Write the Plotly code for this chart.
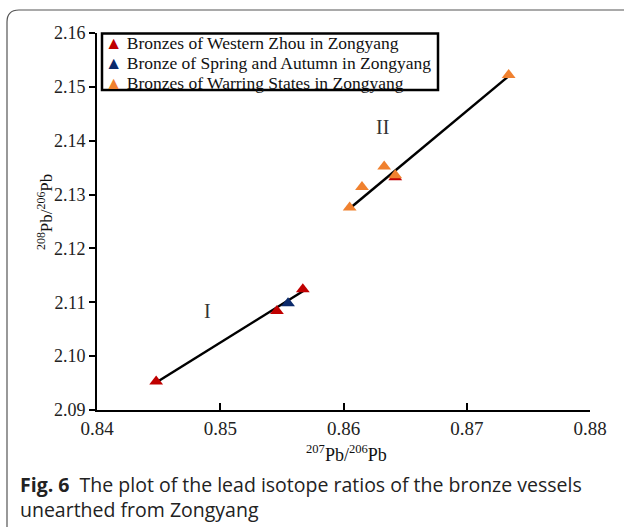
import plotly.graph_objects as go

# ---- data ----
western_zhou_x = [0.8448, 0.8546, 0.8567, 0.8642]
western_zhou_y = [2.0953, 2.1084, 2.1124, 2.1332]
spring_autumn_x = [0.8555]
spring_autumn_y = [2.1098]
warring_x = [0.8605, 0.8615, 0.8633, 0.8642, 0.8734]
warring_y = [2.1276, 2.1314, 2.1352, 2.1336, 2.1522]
trend_I_x = [0.8448, 0.8568]
trend_I_y = [2.0951, 2.1122]
trend_II_x = [0.8605, 0.8734]
trend_II_y = [2.1274, 2.1520]
x_ticks = [0.84, 0.85, 0.86, 0.87, 0.88]
y_ticks = [2.09, 2.10, 2.11, 2.12, 2.13, 2.14, 2.15, 2.16]
series_names = ["Bronzes of Western Zhou in Zongyang",
                "Bronze of Spring and Autumn in Zongyang",
                "Bronzes of Warring States in Zongyang"]
series_colors = ["#C00000", "#0B2A6B", "#F0812F"]

# ---- layout geometry (pixels) ----
WIDTH, HEIGHT = 624, 527
L, R, T, B = 97, 590, 33, 410
PW, PH = R - L, B - T


def px(x):
    return (x - L) / PW


def py(y):
    return (B - y) / PH


SERIF = "Liberation Serif, Times New Roman, serif"
SANS = "Open Sans, Noto Sans, sans-serif"

fig = go.Figure()

for tx, ty in [(trend_I_x, trend_I_y), (trend_II_x, trend_II_y)]:
    fig.add_trace(go.Scatter(x=tx, y=ty, mode="lines",
                             line=dict(color="black", width=2.5),
                             showlegend=False, hoverinfo="skip"))

marker_common = dict(symbol="triangle-up", size=12, line=dict(width=0))
fig.add_trace(go.Scatter(x=western_zhou_x, y=western_zhou_y, mode="markers",
                         name=series_names[0],
                         marker=dict(color=series_colors[0], **marker_common),
                         showlegend=False))
fig.add_trace(go.Scatter(x=spring_autumn_x, y=spring_autumn_y, mode="markers",
                         name=series_names[1],
                         marker=dict(color=series_colors[1], **marker_common),
                         showlegend=False))
fig.add_trace(go.Scatter(x=warring_x, y=warring_y, mode="markers",
                         name=series_names[2],
                         marker=dict(color=series_colors[2], **marker_common),
                         showlegend=False))

shapes = []
annotations = []

# custom legend box
shapes.append(dict(type="rect", xref="paper", yref="paper",
                   x0=px(102), x1=px(438), y0=py(33.5), y1=py(90),
                   line=dict(color="black", width=2.5), fillcolor="white",
                   layer="above"))
for i, (name, col) in enumerate(zip(series_names, series_colors)):
    annotations.append(dict(
        xref="paper", yref="paper", x=px(103), y=py(43 + 20 * i),
        xanchor="left", yanchor="middle", showarrow=False,
        text=f"<span style='color:{col}'>▲</span> {name}",
        font=dict(family=SERIF, size=17.5, color="#111")))

# group labels
annotations.append(dict(xref="x", yref="y", x=0.8490, y=2.1083, text="I",
                        showarrow=False, font=dict(family=SERIF, size=20, color="#333")))
annotations.append(dict(xref="x", yref="y", x=0.8632, y=2.1426, text="II",
                        showarrow=False, font=dict(family=SERIF, size=20, color="#333")))

# axis titles
annotations.append(dict(xref="paper", yref="paper", x=px(346), y=py(454),
                        text="<sup>207</sup>Pb/<sup>206</sup>Pb", showarrow=False,
                        xanchor="center", yanchor="middle",
                        font=dict(family=SERIF, size=18, color="#111")))
annotations.append(dict(xref="paper", yref="paper", x=px(45), y=py(212),
                        text="<sup>208</sup>Pb/<sup>206</sup>Pb", showarrow=False,
                        textangle=-90, xanchor="center", yanchor="middle",
                        font=dict(family=SERIF, size=17, color="#111")))

# caption
annotations.append(dict(xref="paper", yref="paper", x=px(18), y=py(484),
                        text="<b>Fig. 6</b>  The plot of the lead isotope ratios of the bronze vessels",
                        showarrow=False, xanchor="left", yanchor="middle",
                        font=dict(family=SANS, size=19.5, color="#222")))
annotations.append(dict(xref="paper", yref="paper", x=px(18), y=py(509),
                        text="unearthed from Zongyang",
                        showarrow=False, xanchor="left", yanchor="middle",
                        font=dict(family=SANS, size=19.5, color="#222")))

# outer rounded frame
r = 12
path = (f"M {px(7)},{py(540)} L {px(7)},{py(10 + r)} "
        f"Q {px(7)},{py(10)} {px(7 + r)},{py(10)} L {px(640)},{py(10)}")
shapes.append(dict(type="path", xref="paper", yref="paper", path=path,
                   line=dict(color="#555", width=1.2)))

fig.update_layout(
    width=WIDTH, height=HEIGHT,
    margin=dict(l=L, r=WIDTH - R, t=T, b=HEIGHT - B),
    paper_bgcolor="white", plot_bgcolor="white",
    shapes=shapes, annotations=annotations,
    showlegend=False,
    xaxis=dict(range=[x_ticks[0], x_ticks[-1]], tickvals=x_ticks,
               ticktext=[f"{v:.2f}" for v in x_ticks],
               showgrid=False, zeroline=False, showline=True,
               linecolor="black", linewidth=2, ticks="inside", ticklen=7,
               tickwidth=2, tickcolor="black",
               tickfont=dict(family=SERIF, size=19, color="#222")),
    yaxis=dict(range=[y_ticks[0], y_ticks[-1]], tickvals=y_ticks,
               ticktext=[f"{v:.2f}" for v in y_ticks],
               showgrid=False, zeroline=False, showline=True,
               linecolor="black", linewidth=2, ticks="outside", ticklen=6,
               tickwidth=2, tickcolor="black",
               tickfont=dict(family=SERIF, size=18, color="#222")),
)

fig.write_html("out.html")
